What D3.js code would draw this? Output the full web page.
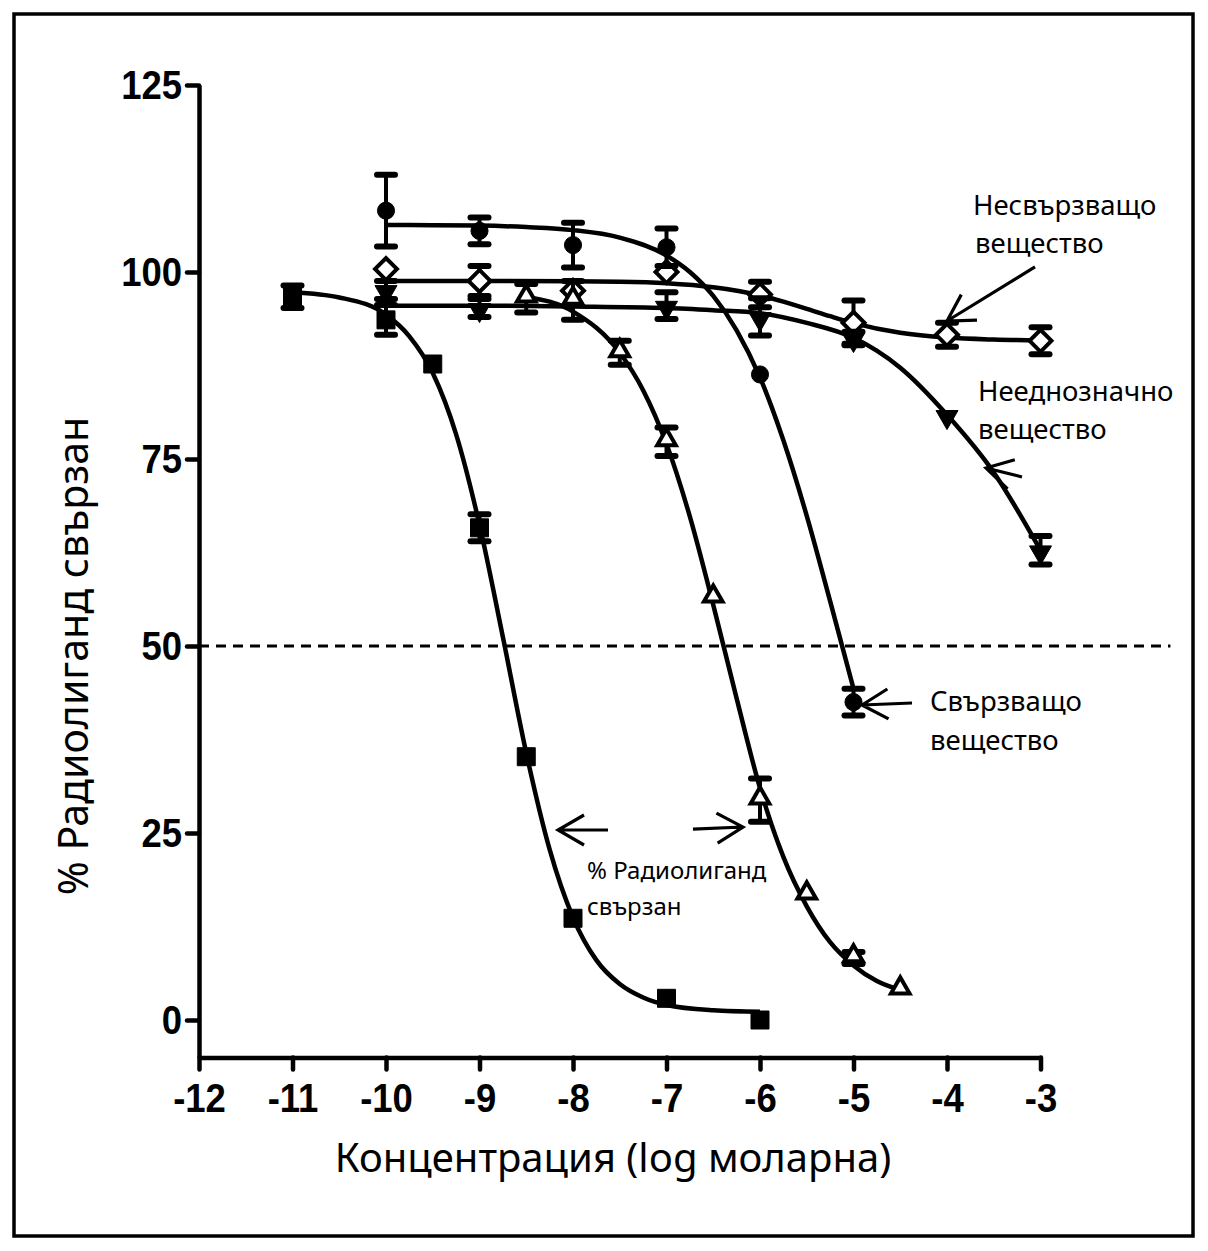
<!DOCTYPE html>
<html><head><meta charset="utf-8">
<script src="https://cdn.jsdelivr.net/npm/d3@7"></script>
<style>body{margin:0;background:#fff}</style>
</head><body>
<svg id="c" width="1208" height="1251" xmlns="http://www.w3.org/2000/svg"></svg>
<script>
// ---- tick labels ----
const xTicks = [-12, -11, -10, -9, -8, -7, -6, -5, -4, -3];
const yTicks = [0, 25, 50, 75, 100, 125];

// ---- data (log molar concentration, % radioligand bound) ----
// filled squares
const sqX   = [-11, -10, -9.5, -9, -8.5, -8, -7, -6];
const sqY   = [96.7, 93.6, 87.7, 65.8, 35.2, 13.6, 2.9, 0];
const sqErr = [1.5, 2.0, 0, 1.8, 0, 0, 0, 0];
// open up-triangles
const trX   = [-8.5, -8, -7.5, -7, -6.5, -6, -5.5, -5, -4.5];
const trY   = [96.5, 96.2, 89.2, 77.3, 56.4, 29.4, 16.7, 8.3, 4.0];
const trErr = [1.9, 2.6, 1.6, 1.9, 0, 2.9, 0, 0.8, 0];
// filled circles – "Свързващо вещество"
const ciX   = [-10, -9, -8, -7, -6, -5];
const ciY   = [108.2, 105.5, 103.6, 103.3, 86.3, 42.5];
const ciErr = [4.8, 1.8, 3.0, 2.5, 0, 1.8];
// open diamonds – "Несвързващо вещество"
const diX   = [-10, -9, -8, -7, -6, -5, -4, -3];
const diY   = [100.4, 98.8, 97.5, 100.0, 97.0, 93.2, 91.6, 90.8];
const diErr = [0, 2.0, 0, 0, 1.7, 3.0, 1.6, 1.8];
// filled down-triangles – "Нееднозначно вещество"
const dtX   = [-10, -9, -7, -6, -5, -4, -3];
const dtY   = [97.6, 95.2, 95.5, 94.0, 91.2, 80.9, 62.8];
const dtErr = [1.2, 1.2, 1.8, 2.5, 0.8, 0, 1.9];

// ---- fitted curves ----
const sqFit = [[-11,97.3],[-10.5,96.6],[-10,94.3],[-9.75,91.4],[-9.5,86.5],[-9.25,78.3],[-9,66.2],[-8.75,51.2],[-8.5,35.7],[-8.25,22.8],[-8,13.7],[-7.75,8.0],[-7.5,4.8],[-7.25,3.0],[-7,2.0],[-6.5,1.3],[-6,1.1]];
const trFit = [[-8.5,96.7],[-8,94.7],[-7.5,89.2],[-7.25,84.2],[-7,77.0],[-6.75,67.3],[-6.5,55.5],[-6.25,43.0],[-6,31.0],[-5.75,21.8],[-5.5,15.2],[-5.25,10.4],[-5,7.3],[-4.75,5.2],[-4.5,4.0]];
const ciFit = [[-10,106.3],[-9.5,106.25],[-9,106.2],[-8.5,106.0],[-8,105.6],[-7.5,104.6],[-7,102.2],[-6.75,100.0],[-6.5,96.8],[-6.25,92.2],[-6,85.9],[-5.75,77.5],[-5.5,67.4],[-5.25,56.0],[-5,44.3]];
const diFit = [[-10,98.8],[-9,98.8],[-8,98.75],[-7.5,98.7],[-7,98.5],[-6.5,97.96],[-6,96.87],[-5.75,96.04],[-5.5,95.08],[-5.25,94.09],[-5,93.17],[-4.5,91.87],[-4,91.23],[-3.5,90.97],[-3,90.86]];
const dtFit = [[-10,95.5],[-9,95.5],[-8,95.4],[-7,95.2],[-6.5,94.9],[-6,94.5],[-5.5,93.2],[-5,91.2],[-4.5,87.2],[-4,80.9],[-3.5,73.2],[-3,62.8]];

// reference line at 50 %
const refLevel = [50];
const refExtent = [-12, -1.61];

// annotation arrows: [tailX, tailY, tipX, tipY] in data units
const arrows = [
  [-3.059, 100.67, -4.0, 93.45],
  [-3.198, 72.6, -3.583, 73.8],
  [-4.374, 42.38, -4.909, 42.11],
  [-7.626, 25.4, -8.160, 25.4],
  [-6.717, 25.53, -6.182, 25.80]
];

// annotation texts
const labels = [
  {t: "Несвързващо", x: 973, y: 215},
  {t: "вещество", x: 975, y: 253},
  {t: "Нееднозначно", x: 978, y: 401},
  {t: "вещество", x: 978, y: 439},
  {t: "Свързващо", x: 930, y: 711},
  {t: "вещество", x: 930, y: 750}
];
const smallLabels = [
  {t: "% Радиолиганд", x: 587, y: 879},
  {t: "свързан", x: 587, y: 915}
];
const xTitle = "Концентрация (log моларна)";
const yTitle = "% Радиолиганд свързан";

// ---- drawing ----
const svg = d3.select("#c");
svg.append("rect").attr("x", 14).attr("y", 14).attr("width", 1179).attr("height", 1222)
  .attr("fill", "#fff").attr("stroke", "#000").attr("stroke-width", 3.5);

const x = d3.scaleLinear().domain([-12, -3]).range([199, 1040.5]);
const y = d3.scaleLinear().domain([-5, 125]).range([1057.4, 85]);

const tickFont = "'Liberation Sans', Arial, sans-serif";
const textFont = "'Noto Sans', 'Open Sans', sans-serif";

// axes
const gy = svg.append("g").attr("transform", `translate(${x(-12)},0)`)
  .call(d3.axisLeft(y).tickValues(yTicks).tickSize(12).tickSizeOuter(0).tickPadding(5).tickFormat(d => String(d)));
const gx = svg.append("g").attr("transform", `translate(0,${y(-5)})`)
  .call(d3.axisBottom(x).tickValues(xTicks).tickSize(12).tickSizeOuter(0).tickPadding(14).tickFormat(d => String(d)));
[gx, gy].forEach(g => {
  g.select(".domain").attr("stroke", "#000").attr("stroke-width", 4.5);
  g.selectAll(".tick line").attr("stroke", "#000").attr("stroke-width", 4.5).attr("stroke-linecap", "round");
  g.selectAll(".tick text").attr("fill", "#000").attr("font-family", tickFont)
    .attr("font-weight", "bold").attr("font-size", 41);
});
gy.selectAll(".tick text").attr("transform", "scale(0.89,1)").attr("x", -19);
gx.selectAll(".tick text").attr("transform", "scale(0.89,1)");

// dashed 50 % line
svg.selectAll(".ref").data(refLevel).enter().append("line")
  .attr("x1", x(refExtent[0])).attr("x2", x(refExtent[1]))
  .attr("y1", d => y(d)).attr("y2", d => y(d))
  .attr("stroke", "#000").attr("stroke-width", 3.2).attr("stroke-dasharray", "10,7");

// fitted curves
const line = d3.line().x(d => x(d[0])).y(d => y(d[1])).curve(d3.curveMonotoneX);
[sqFit, trFit, ciFit, diFit, dtFit].forEach(f => {
  svg.append("path").attr("d", line(f)).attr("fill", "none")
    .attr("stroke", "#000").attr("stroke-width", 4.5);
});

// series definitions
const series = [
  {X: diX, Y: diY, E: diErr, sym: d3.symbolSquare, size: 240, rot: 45, fill: "#fff"},
  {X: dtX, Y: dtY, E: dtErr, sym: d3.symbolTriangle, size: 210, rot: 180, fill: "#000"},
  {X: ciX, Y: ciY, E: ciErr, sym: d3.symbolCircle, size: 230, rot: 0, fill: "#000"},
  {X: trX, Y: trY, E: trErr, sym: d3.symbolTriangle, size: 150, rot: 0, fill: "#fff"},
  {X: sqX, Y: sqY, E: sqErr, sym: d3.symbolSquare, size: 324, rot: 0, fill: "#000"}
];

series.forEach(s => {
  const pts = s.X.map((v, i) => ({x: v, y: s.Y[i], e: s.E[i]}));
  const g = svg.append("g");
  const eb = g.selectAll(".eb").data(pts.filter(p => p.e > 0)).enter().append("g");
  eb.append("line").attr("x1", d => x(d.x)).attr("x2", d => x(d.x))
    .attr("y1", d => y(d.y - d.e)).attr("y2", d => y(d.y + d.e))
    .attr("stroke", "#000").attr("stroke-width", 4);
  [-1, 1].forEach(sg => {
    eb.append("line").attr("x1", d => x(d.x) - 9).attr("x2", d => x(d.x) + 9)
      .attr("y1", d => y(d.y + sg * d.e)).attr("y2", d => y(d.y + sg * d.e))
      .attr("stroke", "#000").attr("stroke-width", 6).attr("stroke-linecap", "round");
  });
  g.selectAll(".m").data(pts).enter().append("path")
    .attr("d", d3.symbol().type(s.sym).size(s.size))
    .attr("transform", d => {
      let ty = y(d.y);
      if (s.sym === d3.symbolTriangle) ty += (s.rot ? 2 : -2);
      return `translate(${x(d.x)},${ty}) rotate(${s.rot})`;
    })
    .attr("fill", s.fill).attr("stroke", "#000")
    .attr("stroke-width", s.fill === "#fff" ? 4 : 1)
    .attr("stroke-linejoin", "miter");
});

// arrows
const headLen = 30, headAng = 30 * Math.PI / 180;
arrows.forEach(a => {
  const tx = x(a[0]), ty = y(a[1]), px = x(a[2]), py = y(a[3]);
  const dx = tx - px, dy = ty - py, L = Math.hypot(dx, dy);
  const ux = dx / L, uy = dy / L;
  const rot = ang => [ux * Math.cos(ang) - uy * Math.sin(ang), ux * Math.sin(ang) + uy * Math.cos(ang)];
  const h1 = rot(headAng), h2 = rot(-headAng);
  const p = d3.path();
  p.moveTo(tx, ty); p.lineTo(px, py);
  p.moveTo(px + h1[0] * headLen, py + h1[1] * headLen); p.lineTo(px, py);
  p.lineTo(px + h2[0] * headLen, py + h2[1] * headLen);
  svg.append("path").attr("d", p.toString()).attr("fill", "none")
    .attr("stroke", "#000").attr("stroke-width", 3.2);
});

// annotation text
svg.selectAll(".lab").data(labels).enter().append("text")
  .attr("x", d => d.x).attr("y", d => d.y).text(d => d.t)
  .attr("font-family", textFont).attr("font-size", 27.5).attr("fill", "#000");
svg.selectAll(".slab").data(smallLabels).enter().append("text")
  .attr("x", d => d.x).attr("y", d => d.y).text(d => d.t)
  .attr("font-family", textFont).attr("font-size", 24).attr("fill", "#000");

// axis titles
svg.append("text").attr("x", 613).attr("y", 1172).attr("text-anchor", "middle")
  .attr("font-family", textFont).attr("font-size", 40).attr("fill", "#000").text(xTitle);
svg.append("text").attr("transform", "translate(88,656) rotate(-90)").attr("text-anchor", "middle")
  .attr("font-family", textFont).attr("font-size", 41).attr("fill", "#000").text(yTitle);
</script>
</body></html>
